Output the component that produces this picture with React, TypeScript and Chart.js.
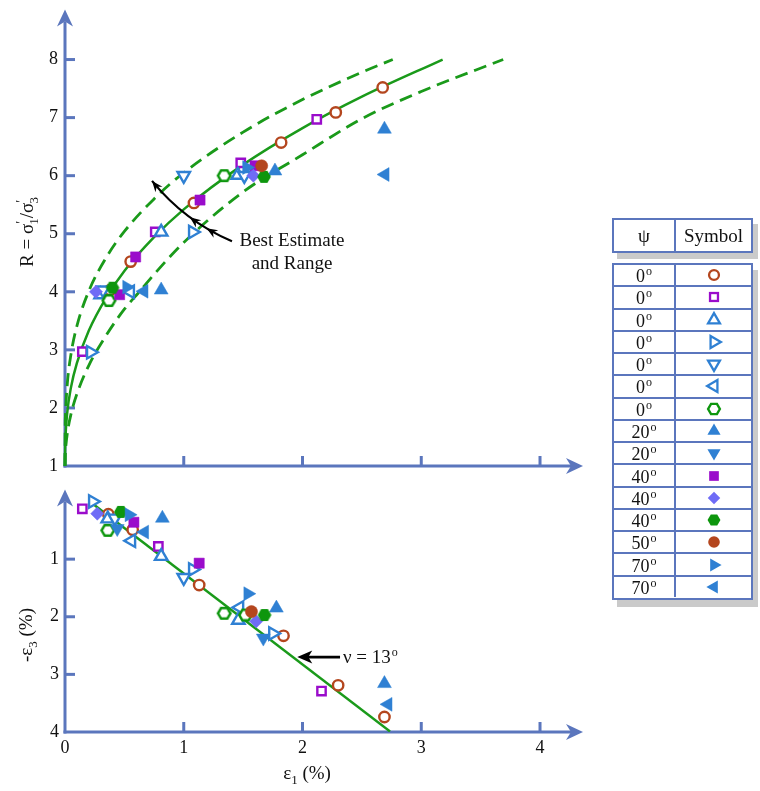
import React, { useEffect, useRef } from "react";
import { Chart, registerables } from "chart.js";
Chart.register(...registerables);

const AXIS = "#5b76bd";
const FONT = "'Liberation Serif', 'Times New Roman', serif";
const BROWN = "#b4461e";
const PURPLE = "#9a0ccb";
const BLUE = "#2f80d3";
const GREEN = "#0d960d";
const LAVENDER = "#6f6cf6";
const CURVE = "#1a9a1a";

// ---- tick values ----
const xTicks = [0, 1, 2, 3, 4];
const rTicks = [1, 2, 3, 4, 5, 6, 7, 8];
const e3Ticks = [1, 2, 3, 4];

// ---- legend labels (psi, degrees) ----
const psiLabels = ["0", "0", "0", "0", "0", "0", "0", "20", "20", "40", "40", "40", "50", "70", "70"];

// ---- top panel: [eps1 (%), R] ----
const rPsi0Circle = [[0.38, 4.03], [0.553, 4.52], [1.086, 5.53], [1.82, 6.57], [2.28, 7.09], [2.675, 7.52]];
const rPsi0Square = [[0.146, 2.97], [0.76, 5.03], [1.48, 6.22], [2.12, 6.97]];
const rPsi0TriUp = [[0.3, 3.95], [0.81, 5.03], [1.455, 6.01]];
const rPsi0TriRight = [[0.216, 2.96], [1.075, 5.03]];
const rPsi0TriDown = [[0.32, 4.03], [1.0, 6.0], [1.51, 6.0]];
const rPsi0TriLeft = [[0.55, 4.0]];
const rPsi0Hex = [[0.37, 3.85], [1.34, 6.0]];
const rPsi20TriUp = [[0.81, 4.03], [1.768, 6.08], [2.69, 6.8]];
const rPsi20TriDown: number[][] = [];
const rPsi40Square = [[0.46, 3.95], [0.595, 4.6], [1.137, 5.58], [1.6, 6.17]];
const rPsi40Diamond = [[0.261, 4.0], [1.586, 6.0]];
const rPsi40Hex = [[0.4, 4.07], [1.676, 5.98]];
const rPsi50Circle = [[1.656, 6.17]];
const rPsi70TriRight = [[0.52, 4.08], [1.53, 6.14]];
const rPsi70TriLeft = [[0.665, 4.01], [2.695, 6.02]];

// ---- bottom panel: [eps1 (%), -eps3 (%)] ----
const e3Psi0Circle = [[0.365, 0.22], [0.57, 0.49], [1.13, 1.45], [1.84, 2.33], [2.3, 3.19], [2.69, 3.74]];
const e3Psi0Square = [[0.146, 0.126], [0.786, 0.78], [2.16, 3.29]];
const e3Psi0TriUp = [[0.36, 0.3], [0.81, 0.95], [1.46, 2.06]];
const e3Psi0TriRight = [[0.233, 0.0], [1.075, 1.18], [1.75, 2.29]];
const e3Psi0TriDown = [[0.42, 0.29], [1.0, 1.32]];
const e3Psi0TriLeft = [[0.56, 0.68], [1.47, 1.84]];
const e3Psi0Hex = [[0.36, 0.5], [1.34, 1.94], [1.52, 1.97]];
const e3Psi20TriUp = [[0.82, 0.29], [1.78, 1.85], [2.69, 3.16]];
const e3Psi20TriDown = [[0.44, 0.47], [1.67, 2.37]];
const e3Psi40Square = [[0.58, 0.36], [1.13, 1.07]];
const e3Psi40Diamond = [[0.272, 0.21], [1.61, 2.08]];
const e3Psi40Hex = [[0.47, 0.18], [1.68, 1.97]];
const e3Psi50Circle = [[1.57, 1.91]];
const e3Psi70TriRight = [[0.54, 0.23], [1.54, 1.6]];
const e3Psi70TriLeft = [[0.67, 0.53], [2.72, 3.52]];

// ---- curves ----
const bestEps = [0, 0.001, 0.005, 0.02, 0.05, 0.1, 0.2, 0.35, 0.5, 0.75, 1, 1.5, 2, 2.5, 3.18];
const bestR = [1, 1.28, 1.54, 1.94, 2.35, 2.77, 3.33, 3.91, 4.36, 4.94, 5.42, 6.19, 6.82, 7.36, 8.0];
const upperEps = [0, 0.001, 0.005, 0.02, 0.05, 0.1, 0.2, 0.35, 0.5, 0.75, 1, 1.5, 2, 2.5, 2.76];
const upperR = [1, 1.55, 1.92, 2.43, 2.92, 3.41, 4.01, 4.6, 5.04, 5.6, 6.05, 6.75, 7.31, 7.78, 8.0];
const lowerEps = [0, 0.001, 0.005, 0.02, 0.05, 0.1, 0.2, 0.35, 0.5, 0.63, 0.75, 1, 1.5, 2, 2.5, 3, 3.69];
const lowerR = [1, 1.14, 1.29, 1.57, 1.89, 2.24, 2.73, 3.26, 3.7, 4.01, 4.3, 4.85, 5.72, 6.36, 6.98, 7.45, 8.0];
const dilationLine = [[0.244, 0.057], [2.737, 3.99]];

// ---- annotation anchors (data units) ----
const bestArcStart = [0.733, 5.91];
const bestArcCtrl = [1.005, 5.22];
const bestArcEnd = [1.406, 4.87];
const bestArcArrowT = [0, 0.52, 0.72];
const nuArrowTail = [2.316, 2.7];
const nuArrowTip = [1.956, 2.7];

type Shape = "circle" | "rect" | "triangle" | "rectRot" | "hex";
type Sym = { shape: Shape; rot: number; color: string; filled: boolean; r: number };
const SYMBOLS: Sym[] = [
  { shape: "circle", rot: 0, color: BROWN, filled: false, r: 5.2 },
  { shape: "rect", rot: 0, color: PURPLE, filled: false, r: 5.9 },
  { shape: "triangle", rot: 0, color: BLUE, filled: false, r: 7.2 },
  { shape: "triangle", rot: 90, color: BLUE, filled: false, r: 7.2 },
  { shape: "triangle", rot: 180, color: BLUE, filled: false, r: 7.2 },
  { shape: "triangle", rot: 270, color: BLUE, filled: false, r: 7.2 },
  { shape: "hex", rot: 0, color: GREEN, filled: false, r: 6.2 },
  { shape: "triangle", rot: 0, color: BLUE, filled: true, r: 8 },
  { shape: "triangle", rot: 180, color: BLUE, filled: true, r: 8 },
  { shape: "rect", rot: 0, color: PURPLE, filled: true, r: 7.2 },
  { shape: "rectRot", rot: 0, color: LAVENDER, filled: true, r: 6.6 },
  { shape: "hex", rot: 0, color: GREEN, filled: true, r: 6.8 },
  { shape: "circle", rot: 0, color: BROWN, filled: true, r: 6.1 },
  { shape: "triangle", rot: 90, color: BLUE, filled: true, r: 8 },
  { shape: "triangle", rot: 270, color: BLUE, filled: true, r: 8 },
];

const TOP_SERIES = [rPsi0Circle, rPsi0Square, rPsi0TriUp, rPsi0TriRight, rPsi0TriDown, rPsi0TriLeft, rPsi0Hex,
  rPsi20TriUp, rPsi20TriDown, rPsi40Square, rPsi40Diamond, rPsi40Hex, rPsi50Circle, rPsi70TriRight, rPsi70TriLeft];
const BOTTOM_SERIES = [e3Psi0Circle, e3Psi0Square, e3Psi0TriUp, e3Psi0TriRight, e3Psi0TriDown, e3Psi0TriLeft, e3Psi0Hex,
  e3Psi20TriUp, e3Psi20TriDown, e3Psi40Square, e3Psi40Diamond, e3Psi40Hex, e3Psi50Circle, e3Psi70TriRight, e3Psi70TriLeft];

function makeHex(color: string, filled: boolean, r: number) {
  const pad = 3;
  const w = Math.ceil(2 * r + 2 * pad);
  const c = document.createElement("canvas");
  c.width = w;
  c.height = w;
  const ctx = c.getContext("2d")!;
  ctx.beginPath();
  for (let i = 0; i < 6; i++) {
    const a = (Math.PI / 3) * i;
    const px = w / 2 + r * Math.cos(a);
    const py = w / 2 + r * Math.sin(a);
    if (i) ctx.lineTo(px, py);
    else ctx.moveTo(px, py);
  }
  ctx.closePath();
  if (filled) {
    ctx.fillStyle = color;
    ctx.fill();
  } else {
    ctx.fillStyle = "#fff";
    ctx.fill();
    ctx.lineWidth = 2.5;
    ctx.strokeStyle = color;
    ctx.stroke();
  }
  return c;
}

function scatterDatasets(series: number[][][]) {
  return series.map((pts, i) => {
    const s = SYMBOLS[i];
    const style: any = s.shape === "hex" ? makeHex(s.color, s.filled, s.r) : s.shape;
    return {
      label: "psi" + i,
      data: pts.map((p) => ({ x: p[0], y: p[1] })),
      showLine: false,
      pointStyle: style,
      pointRadius: s.r,
      pointRotation: s.rot,
      backgroundColor: s.filled ? s.color : "#ffffff",
      borderColor: s.color,
      borderWidth: s.filled ? 0.5 : 2.4,
      order: -i,
      clip: false as any,
    };
  });
}

function curveDataset(xs: number[], ys: number[], dashed: boolean) {
  return {
    label: "curve",
    data: xs.map((x, i) => ({ x, y: ys[i] })),
    showLine: true,
    pointRadius: 0,
    borderColor: CURVE,
    borderWidth: dashed ? 2.8 : 2.5,
    borderDash: dashed ? [13, 7] : [],
    cubicInterpolationMode: "monotone" as const,
    fill: false,
    order: 100,
    clip: false as any,
  };
}

function drawStealth(ctx: CanvasRenderingContext2D, tx: number, ty: number, ux: number, uy: number, len: number, half: number, notch: number) {
  const bx = tx - ux * len;
  const by = ty - uy * len;
  const px = -uy;
  const py = ux;
  ctx.beginPath();
  ctx.moveTo(tx, ty);
  ctx.lineTo(bx + px * half, by + py * half);
  ctx.lineTo(tx - ux * (len - notch), ty - uy * (len - notch));
  ctx.lineTo(bx - px * half, by - py * half);
  ctx.closePath();
  ctx.fill();
}

const axesPlugin = {
  id: "axesArrows",
  beforeDatasetsDraw(chart: any) {
    const { ctx, chartArea: a } = chart;
    const xs = chart.scales.x;
    const ys = chart.scales.y;
    ctx.save();
    ctx.strokeStyle = AXIS;
    ctx.fillStyle = AXIS;
    ctx.lineWidth = 3;
    ctx.beginPath();
    ctx.moveTo(a.left, a.bottom + 1.5);
    ctx.lineTo(a.left, a.top + 12);
    ctx.stroke();
    ctx.beginPath();
    ctx.moveTo(a.left - 1.5, a.bottom);
    ctx.lineTo(a.right - 12, a.bottom);
    ctx.stroke();
    drawStealth(ctx, a.left, a.top, 0, -1, 17, 8, 5);
    drawStealth(ctx, a.right, a.bottom, 1, 0, 17, 8, 5);
    for (const t of xs.ticks) {
      const px = xs.getPixelForValue(t.value);
      if (px - a.left < 3) continue;
      ctx.beginPath();
      ctx.moveTo(px, a.bottom);
      ctx.lineTo(px, a.bottom - 10);
      ctx.stroke();
    }
    for (const t of ys.ticks) {
      const py = ys.getPixelForValue(t.value);
      if (Math.abs(py - a.bottom) < 3) continue;
      ctx.beginPath();
      ctx.moveTo(a.left, py);
      ctx.lineTo(a.left + 10, py);
      ctx.stroke();
    }
    ctx.restore();
  },
};

const bestEstimatePlugin = {
  id: "bestEstimate",
  afterDatasetsDraw(chart: any) {
    const { ctx } = chart;
    const xs = chart.scales.x;
    const ys = chart.scales.y;
    const P0 = [xs.getPixelForValue(bestArcStart[0]), ys.getPixelForValue(bestArcStart[1])];
    const C = [xs.getPixelForValue(bestArcCtrl[0]), ys.getPixelForValue(bestArcCtrl[1])];
    const P2 = [xs.getPixelForValue(bestArcEnd[0]), ys.getPixelForValue(bestArcEnd[1])];
    ctx.save();
    ctx.strokeStyle = "#000";
    ctx.fillStyle = "#000";
    ctx.lineWidth = 2.2;
    ctx.beginPath();
    ctx.moveTo(P0[0], P0[1]);
    ctx.quadraticCurveTo(C[0], C[1], P2[0], P2[1]);
    ctx.stroke();
    for (const t of bestArcArrowT) {
      const bx = (1 - t) * (1 - t) * P0[0] + 2 * t * (1 - t) * C[0] + t * t * P2[0];
      const by = (1 - t) * (1 - t) * P0[1] + 2 * t * (1 - t) * C[1] + t * t * P2[1];
      const dx = 2 * (1 - t) * (C[0] - P0[0]) + 2 * t * (P2[0] - C[0]);
      const dy = 2 * (1 - t) * (C[1] - P0[1]) + 2 * t * (P2[1] - C[1]);
      const L = Math.hypot(dx, dy);
      drawStealth(ctx, bx, by, -dx / L, -dy / L, 11, 4.5, 3.5);
    }
    ctx.restore();
  },
};

const nuArrowPlugin = {
  id: "nuArrow",
  afterDatasetsDraw(chart: any) {
    const { ctx } = chart;
    const xs = chart.scales.x;
    const ys = chart.scales.y;
    const tx = xs.getPixelForValue(nuArrowTip[0]);
    const ty = ys.getPixelForValue(nuArrowTip[1]);
    const sx = xs.getPixelForValue(nuArrowTail[0]);
    const sy = ys.getPixelForValue(nuArrowTail[1]);
    const L = Math.hypot(tx - sx, ty - sy);
    const ux = (tx - sx) / L;
    const uy = (ty - sy) / L;
    ctx.save();
    ctx.strokeStyle = "#000";
    ctx.fillStyle = "#000";
    ctx.lineWidth = 2.6;
    ctx.beginPath();
    ctx.moveTo(sx, sy);
    ctx.lineTo(tx - ux * 8, ty - uy * 8);
    ctx.stroke();
    drawStealth(ctx, tx, ty, ux, uy, 15, 6.5, 4);
    ctx.restore();
  },
};

const tickFont = { family: FONT, size: 18 };

function SymbolIcon({ s }: { s: Sym }) {
  const c = 8;
  const fill = s.filled ? s.color : "#fff";
  const sw = s.filled ? 0 : 2.3;
  const r = s.r * 0.95;
  let el: any = null;
  if (s.shape === "circle") {
    el = <circle cx={c} cy={c} r={r} fill={fill} stroke={s.color} strokeWidth={sw} />;
  } else if (s.shape === "rect") {
    const h = r * Math.SQRT1_2;
    el = <rect x={c - h} y={c - h} width={2 * h} height={2 * h} fill={fill} stroke={s.color} strokeWidth={sw} />;
  } else if (s.shape === "rectRot") {
    el = <polygon points={`${c},${c - r} ${c + r},${c} ${c},${c + r} ${c - r},${c}`} fill={fill} />;
  } else if (s.shape === "triangle") {
    const pts: string[] = [];
    for (let k = 0; k < 3; k++) {
      const rad = ((s.rot + k * 120) * Math.PI) / 180;
      pts.push(`${c + Math.sin(rad) * r},${c - Math.cos(rad) * r}`);
    }
    el = <polygon points={pts.join(" ")} fill={fill} stroke={s.color} strokeWidth={sw} strokeLinejoin="miter" />;
  } else {
    const pts: string[] = [];
    for (let k = 0; k < 6; k++) {
      const a = (Math.PI / 3) * k;
      pts.push(`${c + r * Math.cos(a)},${c + r * Math.sin(a)}`);
    }
    el = <polygon points={pts.join(" ")} fill={fill} stroke={s.color} strokeWidth={s.filled ? 0 : 2.4} />;
  }
  return (
    <svg width={16} height={16} viewBox="0 0 16 16" style={{ display: "block", overflow: "visible" }}>
      {el}
    </svg>
  );
}

const supO: React.CSSProperties = { fontSize: 12, position: "relative", top: -7, marginLeft: 1, lineHeight: 0 };
const subS: React.CSSProperties = { fontSize: 13, position: "relative", top: 5 };
const supP: React.CSSProperties = { fontSize: 14, position: "relative", top: -7 };

const noPadY = (w: number) => (s: any) => {
  s.width = w;
  s.paddingTop = 0;
  s.paddingBottom = 0;
};
const noPadX = (h: number) => (s: any) => {
  s.height = h;
  s.paddingLeft = 0;
  s.paddingRight = 0;
};

export default function App() {
  const topRef = useRef<HTMLCanvasElement>(null);
  const botRef = useRef<HTMLCanvasElement>(null);

  useEffect(() => {
    const top = new Chart(topRef.current!, {
      type: "scatter",
      data: {
        datasets: [
          curveDataset(upperEps, upperR, true),
          curveDataset(bestEps, bestR, false),
          curveDataset(lowerEps, lowerR, true),
          ...scatterDatasets(TOP_SERIES),
        ] as any,
      },
      options: {
        animation: false,
        responsive: false,
        events: [],
        layout: { padding: { top: 7, right: 177, left: 0, bottom: 0 } },
        plugins: { legend: { display: false }, tooltip: { enabled: false } },
        scales: {
          x: {
            type: "linear",
            min: 0,
            max: 4.362,
            grid: { display: false, drawTicks: false },
            border: { display: false },
            ticks: { display: false },
            afterBuildTicks: (s: any) => {
              s.ticks = xTicks.map((v) => ({ value: v }));
            },
            afterFit: noPadX(14),
          },
          y: {
            type: "linear",
            min: 1,
            max: 8.86,
            grid: { display: false, drawTicks: false },
            border: { display: false },
            ticks: { font: tickFont, color: "#111", padding: 7 },
            afterBuildTicks: (s: any) => {
              s.ticks = rTicks.map((v) => ({ value: v }));
            },
            afterFit: noPadY(65),
          },
        },
      } as any,
      plugins: [axesPlugin, bestEstimatePlugin],
    });

    const bot = new Chart(botRef.current!, {
      type: "scatter",
      data: {
        datasets: [
          {
            label: "dilation",
            data: dilationLine.map((p) => ({ x: p[0], y: p[1] })),
            showLine: true,
            pointRadius: 0,
            borderColor: CURVE,
            borderWidth: 2.5,
            order: 100,
          },
          ...scatterDatasets(BOTTOM_SERIES),
        ] as any,
      },
      options: {
        animation: false,
        responsive: false,
        events: [],
        layout: { padding: { top: 8, right: 177, left: 0, bottom: 0 } },
        plugins: { legend: { display: false }, tooltip: { enabled: false } },
        scales: {
          x: {
            type: "linear",
            min: 0,
            max: 4.362,
            grid: { display: false, drawTicks: false },
            border: { display: false },
            ticks: { font: tickFont, color: "#111", padding: 5 },
            afterBuildTicks: (s: any) => {
              s.ticks = xTicks.map((v) => ({ value: v }));
            },
            afterFit: noPadX(59),
          },
          y: {
            type: "linear",
            reverse: true,
            min: -0.207,
            max: 4,
            grid: { display: false, drawTicks: false },
            border: { display: false },
            ticks: { font: tickFont, color: "#111", padding: 6 },
            afterBuildTicks: (s: any) => {
              s.ticks = e3Ticks.map((v) => ({ value: v }));
            },
            afterFit: noPadY(65),
          },
        },
      } as any,
      plugins: [axesPlugin, nuArrowPlugin],
    });

    return () => {
      top.destroy();
      bot.destroy();
    };
  }, []);

  const border = `2.5px solid ${AXIS}`;
  const cellCenter: React.CSSProperties = { display: "flex", alignItems: "center", justifyContent: "center" };
  const rowH = (337 - 5 - 14 * 2) / 15;

  return (
    <div style={{ position: "absolute", left: 0, top: 0, width: 760, height: 791, background: "#fff", overflow: "hidden", fontFamily: FONT, color: "#111" }}>
      <canvas ref={topRef} width={760} height={480} style={{ position: "absolute", left: 0, top: 0 }} />
      <canvas ref={botRef} width={760} height={311} style={{ position: "absolute", left: 0, top: 480 }} />

      {/* axis titles */}
      <div style={{ position: "absolute", left: 27, top: 232, transform: "translate(-50%, -50%) rotate(-90deg)", whiteSpace: "nowrap", fontSize: 19 }}>
        R = σ<span style={supP}>′</span><span style={{ ...subS, marginLeft: -4 }}>1</span>/σ<span style={supP}>′</span><span style={{ ...subS, marginLeft: -4 }}>3</span>
      </div>
      <div style={{ position: "absolute", left: 26, top: 635, transform: "translate(-50%, -50%) rotate(-90deg)", whiteSpace: "nowrap", fontSize: 19 }}>
        -ε<span style={subS}>3</span> (%)
      </div>
      <div style={{ position: "absolute", left: 307, top: 773, transform: "translate(-50%, -50%)", whiteSpace: "nowrap", fontSize: 19 }}>
        ε<span style={subS}>1</span> (%)
      </div>

      {/* annotations */}
      <div style={{ position: "absolute", left: 292, top: 251, transform: "translate(-50%, -50%)", whiteSpace: "nowrap", fontSize: 19, lineHeight: "23px", textAlign: "center" }}>
        Best Estimate
        <br />
        and Range
      </div>
      <div style={{ position: "absolute", left: 343, top: 657, transform: "translate(0, -50%)", whiteSpace: "nowrap", fontSize: 19 }}>
        ν = 13<span style={supO}>o</span>
      </div>

      {/* legend table */}
      <div style={{ position: "absolute", left: 612, top: 218, width: 141, height: 35, boxSizing: "border-box", border, background: "#fff", boxShadow: "5px 6px 0 #cacaca", display: "flex", fontSize: 19 }}>
        <div style={{ ...cellCenter, width: 62, boxSizing: "border-box", borderRight: border }}>ψ</div>
        <div style={{ ...cellCenter, flex: 1 }}>Symbol</div>
      </div>
      <div style={{ position: "absolute", left: 612, top: 263, width: 141, height: 337, boxSizing: "border-box", border, background: "#fff", boxShadow: "5px 7px 0 #cacaca", fontSize: 18, overflow: "hidden" }}>
        {psiLabels.map((lab, i) => (
          <div key={i} style={{ height: rowH + (i ? 2 : 0), boxSizing: "border-box", display: "flex", borderTop: i ? `2px solid ${AXIS}` : "none", overflow: "hidden" }}>
            <div style={{ ...cellCenter, width: 62, boxSizing: "border-box", borderRight: border, lineHeight: "18px", paddingTop: 2 }}>
              <span>
                {lab}
                <span style={supO}>o</span>
              </span>
            </div>
            <div style={{ ...cellCenter, flex: 1 }}>
              <SymbolIcon s={SYMBOLS[i]} />
            </div>
          </div>
        ))}
      </div>
    </div>
  );
}
